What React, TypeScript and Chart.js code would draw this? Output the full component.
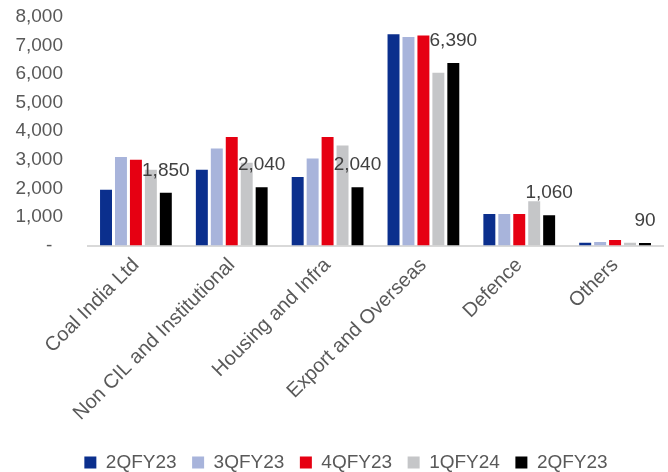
import React, { useEffect, useRef } from "react";
import { Chart, registerables } from "chart.js";

Chart.register(...registerables);

const categories = [
  "Coal India Ltd",
  "Non CIL and Institutional",
  "Housing and Infra",
  "Export and Overseas",
  "Defence",
  "Others",
];

const seriesNames = ["2QFY23", "3QFY23", "4QFY23", "1QFY24", "2QFY23"];

const q2fy23a = [1950, 2650, 2400, 7400, 1100, 100];
const q3fy23 = [3100, 3400, 3050, 7300, 1100, 120];
const q4fy23 = [3000, 3800, 3800, 7350, 1100, 190];
const q1fy24 = [2650, 2900, 3500, 6050, 1550, 100];
const q2fy23b = [1850, 2040, 2040, 6390, 1060, 90];

const seriesColors = ["#0B2F8D", "#A8B4DB", "#E60012", "#C5C6C8", "#000000"];

const yTicks = [0, 1000, 2000, 3000, 4000, 5000, 6000, 7000, 8000];

const FONT = "'Liberation Sans', Arial, sans-serif";

const fmt = (v: number) => (v === 0 ? "-  " : v.toLocaleString("en-US"));

const labelPlugin = {
  id: "lastSeriesLabels",
  afterLayout(chart: any) {
    if (chart.legend) {
      chart.legend.left += 24;
    }
  },
  afterDatasetsDraw(chart: any) {
    const idx = chart.data.datasets.length - 1;
    const meta = chart.getDatasetMeta(idx);
    const data = chart.data.datasets[idx].data as number[];
    const ctx = chart.ctx;
    ctx.save();
    ctx.font = `19px ${FONT}`;
    ctx.fillStyle = "#404040";
    ctx.textAlign = "center";
    ctx.textBaseline = "middle";
    meta.data.forEach((el: any, i: number) => {
      ctx.fillText(data[i].toLocaleString("en-US"), el.x, el.y - 22);
    });
    ctx.restore();
  },
};

export default function App() {
  const ref = useRef<HTMLCanvasElement | null>(null);

  useEffect(() => {
    document.body.style.margin = "0";
    const all = [q2fy23a, q3fy23, q4fy23, q1fy24, q2fy23b];
    const chart = new Chart(ref.current as HTMLCanvasElement, {
      type: "bar",
      data: {
        labels: categories,
        datasets: all.map((d, i) => ({
          label: seriesNames[i],
          data: d,
          backgroundColor: seriesColors[i],
          borderWidth: 0,
          categoryPercentage: 0.78,
          barPercentage: 0.8,
        })),
      },
      options: {
        animation: false,
        responsive: false,
        maintainAspectRatio: false,
        layout: { padding: { left: 5, right: 5, top: 17, bottom: -10 } },
        plugins: {
          tooltip: { enabled: false },
          legend: {
            position: "bottom",
            labels: {
              boxWidth: 12,
              boxHeight: 12,
              padding: 15.5,
              color: "#595959",
              font: { family: FONT, size: 19 },
            },
          },
        },
        scales: {
          x: {
            grid: { display: false, drawTicks: false },
            border: { display: true, color: "#D9D9D9", width: 2 },
            ticks: {
              autoSkip: false,
              minRotation: 45,
              maxRotation: 45,
              padding: 8,
              color: "#595959",
              font: { family: FONT, size: 20 },
            },
            afterFit: (s: any) => {
              s.height = 192;
            },
          },
          y: {
            min: 0,
            max: 8000,
            grid: { display: false, drawTicks: false },
            border: { display: false },
            afterBuildTicks: (s: any) => {
              s.ticks = yTicks.map((v) => ({ value: v }));
            },
            ticks: {
              padding: 25,
              color: "#595959",
              font: { family: FONT, size: 19 },
              callback: (v: any) => fmt(Number(v)),
            },
            afterFit: (s: any) => {
              s.width = 83;
              s.paddingTop = 0;
              s.paddingBottom = 0;
            },
          },
        },
      },
      plugins: [labelPlugin],
    });
    return () => chart.destroy();
  }, []);

  return <canvas ref={ref} width={668} height={472} style={{ display: "block" }} />;
}
